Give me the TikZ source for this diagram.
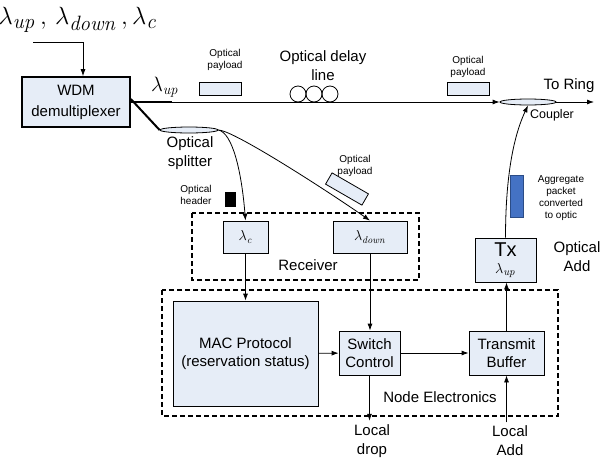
\documentclass[tikz,border=0pt]{standalone}
\usepackage[no-math]{fontspec}
\setmainfont{Liberation Sans}
\usetikzlibrary{arrows.meta,positioning,shapes.geometric,calc}
\definecolor{boxfill}{HTML}{E6EDF7}
\definecolor{pktblue}{HTML}{4472C4}
\definecolor{pktedge}{HTML}{2B4C86}

\begin{document}
\begin{tikzpicture}[x=1pt,y=-1pt,>={Latex[length=7pt,width=5pt]},line width=0.8pt,
  block/.style={draw,fill=boxfill,align=center,inner sep=0pt,font=\fontsize{15}{18}\selectfont},
  dashbox/.style={draw,line width=1.6pt,dash pattern=on 5pt off 3pt},
  note/.style={align=center,font=\fontsize{10}{12}\selectfont},
  lbl/.style={align=center,font=\fontsize{15}{19}\selectfont},
  packet/.style={draw,fill=boxfill,minimum width=42pt,minimum height=13pt,inner sep=0pt},
  split/.style={draw,ellipse,fill=boxfill,inner sep=0pt,minimum height=6pt},
  fibre/.style={->}]
  \useasboundingbox (0,0) rectangle (601,464);

  % wavelengths in, demultiplexer
  \node[font=\fontsize{28}{30}\selectfont] (waves) at (78,20)
    {$\lambda_{\mathit{up}}\,,\,\lambda_{\mathit{down}}\,,\lambda_{\mathit{c}}$};
  \node[block,line width=1.6pt,minimum width=108pt,minimum height=50pt,font=\fontsize{15}{21}\selectfont]
    (wdm) at (76,102) {WDM\\demultiplexer};
  \coordinate (feed) at (33,42);
  \draw[->] (feed) -| ([xshift=7pt]wdm.north);

  % pass-through path with delay line and coupler
  \node[split,minimum width=56pt] (cpl) at (528,102) {};
  \coordinate (thin) at (172,102);
  \draw[line width=2pt] (wdm.east |- thin) -- (thin);
  \draw[fibre] (thin) -- (cpl.west);
  \coordinate (ring) at (594,102);
  \draw[fibre] (cpl.east) -- (ring);
  \foreach \cx in {298,314,330} \draw (\cx,94) circle[radius=8];
  \node[font=\fontsize{21}{23}\selectfont] (lup) at (165,87) {$\lambda_{\mathit{up}}$};
  \node[lbl] (delay) at (323,66) {Optical delay\\line};
  \node[packet] (pk1) at (220,88.5) {};
  \node[note] (pk1lbl) at (225,60) {Optical\\payload};
  \node[packet] (pk2) at (468,88.5) {};
  \node[note] (pk2lbl) at (468,67) {Optical\\payload};
  \node[lbl] (ringlbl) at (569,86) {To Ring};
  \node[font=\fontsize{12.5}{15}\selectfont] (cpllbl) at (552,115) {Coupler};

  % drop side: splitter and receiver
  \node[split,minimum width=58pt] (spl) at (189,130) {};
  \draw[line width=2pt] ([yshift=3pt]wdm.east) -- (spl.west);
  \node[lbl] (spllbl) at (190,153) {Optical\\splitter};
  \draw[dashbox] (192,213) rectangle (419,280);
  \node[lbl] (rxlbl) at (308,265) {Receiver};
  \node[block,minimum width=45pt,minimum height=32pt,font=\fontsize{14}{15}\selectfont]
    (lc) at (245.5,237) {$\lambda_{\mathit{c}}$};
  \node[block,minimum width=74pt,minimum height=32pt,font=\fontsize{14}{15}\selectfont]
    (ld) at (370,237) {$\lambda_{\mathit{down}}$};
  \draw[fibre] (spl.east) .. controls +(14,3) and +(-4,-50) .. (lc.north);
  \draw[fibre] (spl.east) .. controls +(15,0) and +(-40,-28) .. (ld.north);
  \node[draw,fill=black,minimum width=10pt,minimum height=14pt,inner sep=0pt] (hdr) at (230,199) {};
  \node[note] (hdrlbl) at (196,195) {Optical\\header};
  \node[packet,rotate=-30] (pk3) at (347,189) {};
  \node[note] (pk3lbl) at (355,166) {Optical\\payload};

  % node electronics
  \draw[dashbox] (162,290) rectangle (558,416);
  \node[lbl] (nelbl) at (440,397) {Node Electronics};
  \node[block,minimum width=145pt,minimum height=105pt] (mac) at (245.5,353.5)
    {MAC Protocol\\(reservation status)};
  \node[block,minimum width=61pt,minimum height=44pt] (sw) at (369.5,353) {Switch\\Control};
  \node[block,minimum width=75pt,minimum height=44pt] (tb) at (506.5,353) {Transmit\\Buffer};
  \draw[->] (lc) -- (mac);
  \draw[->] (ld) -- (ld |- sw.north);
  \draw[->] (mac) -- (sw);
  \draw[->] (sw) -- (tb);
  \node[lbl] (drop) at (372,441) {Local\\drop};
  \node[lbl] (add) at (510,441) {Local\\Add};
  \draw[->] (sw.south) -- (sw.south |- drop.north);
  \draw[->] (tb.south |- add.north) -- (tb.south);

  % add side: transmitter back to the coupler
  \node[block,minimum width=61pt,minimum height=44pt,font=\fontsize{20}{20}\selectfont]
    (tx) at (505.5,260) {Tx\\[-3pt]{\fontsize{15}{16}\selectfont$\lambda_{\mathit{up}}$}};
  \draw[->] (tb.north) -- (tb.north |- tx.south);
  \draw[fibre] (tx.north) .. controls +(0,-55) and +(-16,34) .. (cpl.south);
  \node[draw=pktedge,fill=pktblue,minimum width=13pt,minimum height=42pt,inner sep=0pt] (agg) at (517,196.5) {};
  \node[note] (agglbl) at (561,198) {Aggregate\\packet\\converted\\to optic};
  \node[lbl] (addlbl) at (577,257) {Optical\\Add};
\end{tikzpicture}
\end{document}
